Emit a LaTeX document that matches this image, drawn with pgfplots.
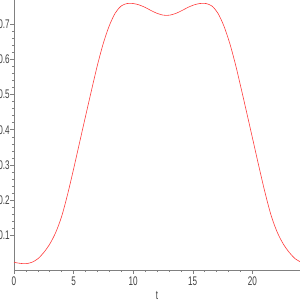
\documentclass[border=0pt]{standalone}
\usepackage{pgfplots}
\pgfplotsset{compat=1.18}
\usepackage{fontspec}
\setmainfont{Liberation Sans}
\definecolor{axgray}{RGB}{128,128,128}
\definecolor{curvered}{RGB}{255,60,60}
\begin{document}
\begin{tikzpicture}
\begin{axis}[
  name=ax,
  scale only axis,
  width=286pt, height=270pt,
  xmin=0, xmax=24, ymin=0, ymax=0.77,
  axis lines=left,
  axis line style={-, axgray, line width=0.6pt},
  every tick/.style={axgray, line width=0.5pt},
  tick align=outside,
  major tick length=3.5pt,
  minor tick length=2pt,
  xtick={0,5,10,15,20},
  ytick={0.1,0.2,0.3,0.4,0.5,0.6,0.7},
  minor x tick num=4,
  minor y tick num=4,
  /pgf/number format/assume math mode=true,
  yticklabel style={/pgf/number format/fixed, /pgf/number format/precision=1, inner sep=1pt},
  tick label style={font=\fontsize{12.5}{13}\selectfont, xscale=0.65, text=black!75},
  xticklabel style={inner sep=1pt, yshift=-2pt},
  xlabel={t},
  xlabel style={font=\fontsize{12.5}{13}\selectfont, xscale=0.65, text=black!75, yshift=-1pt},
  clip=false,
]
\addplot[curvered, line width=0.6pt, smooth] coordinates {
(0,0.022) (0.5,0.019) (1.0,0.018) (1.5,0.022) (2.0,0.032) (2.5,0.050) (3.0,0.074)
(3.5,0.107) (4.0,0.153) (4.5,0.216) (5.0,0.288) (5.5,0.363) (6.0,0.438) (6.5,0.512)
(7.0,0.584) (7.5,0.647) (8.0,0.697) (8.5,0.733) (9.0,0.753) (9.5,0.760) (10.0,0.760)
(10.5,0.756) (11.0,0.749) (11.5,0.740) (12.0,0.732) (12.5,0.727) (12.8,0.726)
(13.1,0.727) (13.6,0.732) (14.1,0.740) (14.6,0.749) (15.1,0.756) (15.6,0.760)
(16.1,0.760) (16.6,0.753) (17.1,0.733) (17.6,0.697) (18.1,0.647) (18.6,0.584)
(19.1,0.512) (19.6,0.438) (20.1,0.363) (20.6,0.288) (21.1,0.216) (21.6,0.153)
(22.1,0.107) (22.6,0.074) (23.1,0.050) (23.6,0.032) (24.0,0.024)
};
\end{axis}
\pgfresetboundingbox
\path[use as bounding box] ([xshift=-14pt,yshift=-30pt]ax.south west) rectangle (ax.north east);
\end{tikzpicture}
\end{document}
